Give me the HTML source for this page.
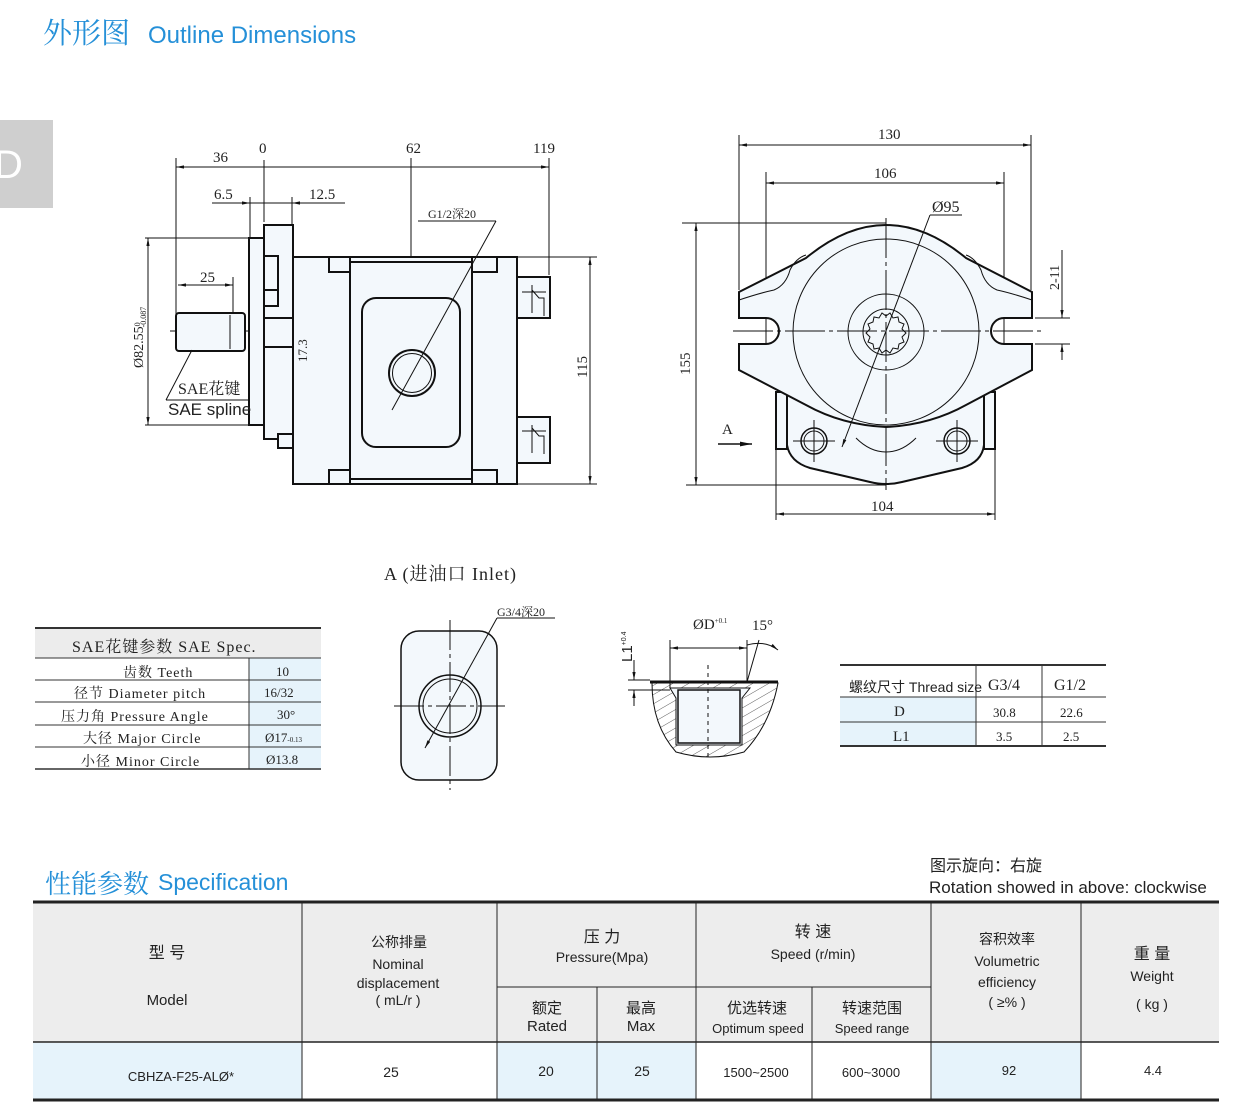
<!DOCTYPE html>
<html><head><meta charset="utf-8"><style>
html,body{margin:0;padding:0;background:#fff;}
svg{display:block;}
.t{font-family:"Liberation Serif","Noto Serif CJK SC",serif;fill:#222;}
.s{font-family:"Liberation Sans Narrow","Liberation Sans","Noto Sans CJK SC",sans-serif;fill:#222;}
</style></head><body>
<svg width="1246" height="1112" viewBox="0 0 1246 1112" xmlns="http://www.w3.org/2000/svg">
<defs>
<marker id="a" viewBox="0 0 10 10" refX="10" refY="5" markerWidth="8" markerHeight="8" orient="auto-start-reverse"><path d="M0,3 L10,5 L0,7 z" fill="#111"/></marker>
<pattern id="h" width="8" height="8" patternUnits="userSpaceOnUse" patternTransform="rotate(60)"><line x1="0" y1="0" x2="0" y2="8" stroke="#333" stroke-width="0.8"/></pattern>
</defs>
<!-- header -->
<text x="43" y="43" font-family="Liberation Serif,'Noto Serif CJK SC',serif" font-size="29" fill="#2590d8">外形图</text>
<text x="148" y="43" font-family="Liberation Sans,sans-serif" font-size="24" fill="#2590d8">Outline  Dimensions</text>
<rect x="0" y="120" width="53" height="88" fill="#cfcfcf"/>
<text x="-6" y="178" font-family="Liberation Sans,sans-serif" font-size="40" fill="#fff">D</text>

<!-- SIDE VIEW -->
<g stroke="#111" fill="none" stroke-width="1">
<line x1="176" y1="158" x2="176" y2="350"/>
<line x1="264" y1="160" x2="264" y2="222"/>
<line x1="411" y1="158" x2="411" y2="290"/>
<line x1="549" y1="158" x2="549" y2="275"/>
<line x1="176" y1="167" x2="264" y2="167" marker-start="url(#a)"/>
<line x1="264" y1="167" x2="549" y2="167" marker-end="url(#a)"/>
<line x1="411" y1="167" x2="411" y2="167"/>
<line x1="250" y1="197" x2="250" y2="238"/>
<line x1="292" y1="197" x2="292" y2="225"/>
<line x1="212" y1="203" x2="250" y2="203" marker-end="url(#a)"/>
<line x1="250" y1="203" x2="292" y2="203"/>
<line x1="345" y1="203" x2="292" y2="203" marker-end="url(#a)"/>
<line x1="145" y1="238" x2="250" y2="238"/>
<line x1="145" y1="425" x2="250" y2="425"/>
<line x1="148" y1="238" x2="148" y2="425" marker-start="url(#a)" marker-end="url(#a)"/>
<line x1="233" y1="277" x2="233" y2="318"/>
<line x1="178" y1="285" x2="233" y2="285" marker-start="url(#a)" marker-end="url(#a)"/>
<line x1="517" y1="257" x2="597" y2="257"/>
<line x1="517" y1="484" x2="597" y2="484"/>
<line x1="590" y1="257" x2="590" y2="484" marker-start="url(#a)" marker-end="url(#a)"/>
<line x1="305" y1="333" x2="305" y2="333"/>
<line x1="312" y1="333" x2="312" y2="373" marker-start="url(#a)" marker-end="url(#a)"/>
<line x1="307" y1="373" x2="445" y2="373" stroke-dasharray="30 4 4 4"/>
<line x1="170" y1="331" x2="330" y2="331" stroke-dasharray="30 4 4 4"/>
<line x1="411" y1="290" x2="411" y2="420" stroke-dasharray="30 4 4 4"/>
</g>
<g stroke="#111" stroke-width="2" fill="#f3f8fc">
<rect x="249" y="238" width="15" height="187"/>
<rect x="264" y="225" width="29" height="214"/>
<rect x="278" y="434" width="15" height="14"/>
<rect x="264" y="256" width="14" height="50" fill="none"/>
<path d="M264,290 h14" fill="none"/>
<rect x="293" y="257" width="224" height="227"/>
<rect x="329" y="257" width="21" height="15"/>
<rect x="472" y="257" width="25" height="15"/>
<rect x="329" y="470" width="21" height="14"/>
<rect x="472" y="470" width="25" height="14"/>
<line x1="350" y1="257" x2="350" y2="484"/>
<line x1="472" y1="257" x2="472" y2="484"/>
<line x1="350" y1="262" x2="472" y2="262"/>
<line x1="350" y1="479" x2="472" y2="479"/>
<rect x="362" y="298" width="98" height="149" rx="14"/>
<rect x="517" y="277" width="33" height="41"/>
<rect x="517" y="417" width="33" height="46"/>
<rect x="176" y="313" width="69" height="38" rx="3"/>
<line x1="264" y1="318" x2="293" y2="318"/><line x1="264" y1="347" x2="293" y2="347"/>
</g>
<g stroke="#111" fill="none" stroke-width="1">
<circle cx="412" cy="373" r="23" stroke-width="2"/>
<circle cx="412" cy="373" r="19.5"/>
<path d="M532,285 v28 M532,425 v28 M522,292 h24 M522,431 h24 M532,290 l7,8 h5 v18 M532,428 l7,8 h5 v18"/>
<line x1="230" y1="315" x2="230" y2="349"/>
<line x1="192" y1="350" x2="166" y2="400"/>
<line x1="166" y1="400" x2="250" y2="400"/>
<line x1="418" y1="221" x2="496" y2="221"/>
<line x1="496" y1="221" x2="392" y2="410"/>
</g>
<text class="t" x="213" y="162" font-size="15">36</text>
<text class="t" x="259" y="153" font-size="15">0</text>
<text class="t" x="406" y="153" font-size="15">62</text>
<text class="t" x="533" y="153" font-size="15">119</text>
<text class="t" x="214" y="199" font-size="15">6.5</text>
<text class="t" x="309" y="199" font-size="15">12.5</text>
<text class="t" x="200" y="282" font-size="15">25</text>
<text class="t" x="428" y="218" font-size="12">G1/2深20</text>
<text class="t" x="178" y="394" font-size="16">SAE花键</text>
<text class="s" x="168" y="415" font-size="17">SAE spline</text>
<text class="t" font-size="14" transform="translate(143,368) rotate(-90)">Ø82.55<tspan font-size="8" dy="-3">0</tspan><tspan font-size="8" dx="-5" dy="6">-0.087</tspan></text>
<text class="t" font-size="13" transform="translate(307,362) rotate(-90)">17.3</text>
<text class="t" font-size="15" transform="translate(587,378) rotate(-90)">115</text>

<!-- FRONT VIEW -->
<g stroke="#111" fill="none" stroke-width="1">
<line x1="739" y1="135" x2="739" y2="290"/>
<line x1="1031" y1="135" x2="1031" y2="290"/>
<line x1="739" y1="145" x2="1031" y2="145" marker-start="url(#a)" marker-end="url(#a)"/>
<line x1="766" y1="172" x2="766" y2="350"/>
<line x1="1004" y1="172" x2="1004" y2="350"/>
<line x1="766" y1="183" x2="1004" y2="183" marker-start="url(#a)" marker-end="url(#a)"/>
<line x1="682" y1="223" x2="886" y2="223"/>
<line x1="686" y1="485" x2="886" y2="485"/>
<line x1="696" y1="223" x2="696" y2="485" marker-start="url(#a)" marker-end="url(#a)"/>
<line x1="776" y1="450" x2="776" y2="520"/>
<line x1="995" y1="450" x2="995" y2="520"/>
<line x1="776" y1="514" x2="995" y2="514" marker-start="url(#a)" marker-end="url(#a)"/>
</g>
<g stroke="#111" stroke-width="2" fill="#f3f8fc">
<rect x="776" y="392" width="11" height="57"/>
<rect x="984" y="392" width="11" height="57"/>
<path d="M787,393 L787,445 Q790,462 810,468 L870,482 Q886,486 902,482 L962,468 Q982,462 984,445 L984,393 Z"/>
<path d="M739,292 L806,258 Q846,225 886,225 Q926,225 966,258 L1032,292 L1032,318 L1004,318 A13,13 0 0 0 1004,344 L1032,344 L1032,370 L966,405 Q930,425 886,427 Q842,425 806,405 L739,370 L739,344 L766,344 A13,13 0 0 0 766,318 L739,318 Z"/>
</g>
<g stroke="#111" fill="none" stroke-width="1">
<path d="M739,300 Q760,293 774,290 Q786,285 790,270 Q796,258 806,255"/>
<path d="M1032,300 Q1011,293 997,290 Q985,285 981,270 Q975,258 966,255"/>
<circle cx="886" cy="332" r="93"/>
<circle cx="886" cy="332" r="38"/>
<circle cx="886" cy="332" r="23"/>
<path d="M886,316 l4,-3 l3,5 l5,-1 l1,5 l5,2 l-2,5 l4,4 l-4,4 l2,5 l-5,2 l-1,5 l-5,-1 l-3,5 l-4,-3 l-4,3 l-3,-5 l-5,1 l-1,-5 l-5,-2 l2,-5 l-4,-4 l4,-4 l-2,-5 l5,-2 l1,-5 l5,1 l3,-5 z"/>
<circle cx="814" cy="441" r="13" stroke-width="1.5"/><circle cx="814" cy="441" r="10"/>
<circle cx="957" cy="441" r="13" stroke-width="1.5"/><circle cx="957" cy="441" r="10"/>
<path d="M856,438 Q870,452 886,452 Q902,452 916,438"/>
<line x1="733" y1="331" x2="1045" y2="331" stroke-dasharray="40 4 4 4"/>
<line x1="886" y1="218" x2="886" y2="490" stroke-dasharray="40 4 4 4"/>
<line x1="793" y1="441" x2="835" y2="441"/><line x1="814" y1="420" x2="814" y2="462"/>
<line x1="936" y1="441" x2="978" y2="441"/><line x1="957" y1="420" x2="957" y2="462"/>
<line x1="930" y1="215" x2="962" y2="215"/>
<line x1="930" y1="215" x2="842" y2="447" marker-end="url(#a)"/>
<line x1="1035" y1="318" x2="1070" y2="318"/>
<line x1="1035" y1="344" x2="1070" y2="344"/>
<line x1="1062" y1="250" x2="1062" y2="318" marker-end="url(#a)"/>
<line x1="1062" y1="360" x2="1062" y2="344" marker-end="url(#a)"/>
<line x1="718" y1="444" x2="752" y2="444" marker-end="url(#a)" stroke-width="1.5"/>
</g>
<text class="t" x="878" y="139" font-size="15">130</text>
<text class="t" x="874" y="178" font-size="15">106</text>
<text class="t" x="932" y="212" font-size="16">Ø95</text>
<text class="t" x="871" y="511" font-size="15">104</text>
<text class="t" x="722" y="434" font-size="15">A</text>
<text class="t" font-size="15" transform="translate(690,375) rotate(-90)">155</text>
<text class="t" font-size="14" transform="translate(1059,290) rotate(-90)">2-11</text>

<text class="t" x="384" y="580" font-size="18" letter-spacing="1">A (进油口 Inlet)</text>

<!-- SAE table -->
<rect x="35" y="629" width="286" height="29" fill="#ececec"/>
<rect x="249" y="658" width="72" height="112" fill="#e6f3fb"/>
<g stroke="#333" stroke-width="1">
<line x1="35" y1="628" x2="321" y2="628" stroke-width="2"/>
<line x1="35" y1="658" x2="321" y2="658"/>
<line x1="35" y1="680" x2="321" y2="680"/>
<line x1="35" y1="702" x2="321" y2="702"/>
<line x1="35" y1="725" x2="321" y2="725"/>
<line x1="35" y1="747" x2="321" y2="747"/>
<line x1="35" y1="769" x2="321" y2="769" stroke-width="1.5"/>
<line x1="249" y1="658" x2="249" y2="769"/>
</g>
<g class="t" font-size="14" letter-spacing="1">
<text x="72" y="652" font-size="16">SAE花键参数  SAE Spec.</text>
<text x="123" y="677">齿数 Teeth</text>
<text x="74" y="698">径节 Diameter pitch</text>
<text x="61" y="721">压力角 Pressure Angle</text>
<text x="83" y="743">大径 Major Circle</text>
<text x="81" y="766">小径 Minor Circle</text>
</g>
<g class="t" font-size="13">
<text x="276" y="676">10</text><text x="264" y="697">16/32</text><text x="277" y="719">30°</text>
<text x="265" y="742">Ø17<tspan font-size="7">-0.13</tspan></text><text x="266" y="764">Ø13.8</text>
</g>

<!-- inlet port -->
<g stroke="#111" fill="none" stroke-width="1">
<rect x="401" y="631" width="96" height="149" rx="18" fill="#f3f8fc" stroke-width="1.5"/>
<circle cx="450" cy="706" r="31" stroke-width="1.5"/>
<circle cx="450" cy="706" r="27"/>
<line x1="394" y1="706" x2="505" y2="706" stroke-dasharray="30 4 4 4"/>
<line x1="450" y1="620" x2="450" y2="790" stroke-dasharray="30 4 4 4"/>
<line x1="497" y1="618" x2="555" y2="618"/>
<line x1="497" y1="618" x2="425" y2="748" marker-end="url(#a)"/>
</g>
<text class="t" x="497" y="616" font-size="12">G3/4深20</text>

<!-- section -->
<g stroke="#111" fill="none" stroke-width="1">
<path d="M652,683 L778,683 Q770,725 744,752 Q710,762 676,752 Q652,725 652,683 Z" fill="url(#h)"/>
<path d="M670,688 L750,688 L742,698 L742,745 L676,745 L676,698 Z" fill="#f3f8fc"/>
<rect x="678" y="690" width="62" height="53" fill="#f3f8fc" stroke-width="1.5"/>
<line x1="650" y1="682" x2="778" y2="682" stroke-width="3"/>
<line x1="670" y1="640" x2="670" y2="688"/>
<line x1="747" y1="640" x2="747" y2="682"/>
<line x1="747" y1="682" x2="759" y2="640"/>
<line x1="670" y1="648" x2="747" y2="648" marker-start="url(#a)" marker-end="url(#a)"/>
<path d="M747,645 Q765,640 778,650" marker-end="url(#a)"/>
<line x1="708" y1="665" x2="708" y2="760" stroke-dasharray="4 4"/>
<line x1="628" y1="680" x2="650" y2="680"/><line x1="628" y1="690" x2="670" y2="690"/>
<line x1="634" y1="660" x2="634" y2="680" marker-end="url(#a)"/>
<line x1="634" y1="706" x2="634" y2="690" marker-end="url(#a)"/>
</g>
<text class="t" x="693" y="629" font-size="15">ØD<tspan font-size="7" dy="-6">+0.1</tspan></text>
<text class="t" x="752" y="630" font-size="15">15°</text>
<text class="s" font-size="15" transform="translate(632,662) rotate(-90)">L1<tspan font-size="7" dy="-6">+0.4</tspan></text>

<!-- thread table -->
<rect x="840" y="697" width="136" height="49" fill="#e6f3fb"/>
<g stroke="#333" stroke-width="1">
<line x1="840" y1="665" x2="1106" y2="665" stroke-width="2"/>
<line x1="840" y1="697" x2="1106" y2="697"/>
<line x1="840" y1="722" x2="1106" y2="722"/>
<line x1="840" y1="746" x2="1106" y2="746" stroke-width="2"/>
<line x1="976" y1="665" x2="976" y2="746"/>
<line x1="1042" y1="665" x2="1042" y2="746"/>
</g>
<text class="s" x="849" y="692" font-size="14">螺纹尺寸 Thread size</text>
<text class="t" x="988" y="690" font-size="16">G3/4</text>
<text class="t" x="1054" y="690" font-size="16">G1/2</text>
<text class="t" x="894" y="716" font-size="15">D</text>
<text class="t" x="993" y="717" font-size="13">30.8</text>
<text class="t" x="1060" y="717" font-size="13">22.6</text>
<text class="t" x="893" y="741" font-size="15">L1</text>
<text class="t" x="996" y="741" font-size="13">3.5</text>
<text class="t" x="1063" y="741" font-size="13">2.5</text>

<!-- spec -->
<text x="45" y="893" font-family="'Noto Serif CJK SC',serif" font-size="26" fill="#2590d8">性能参数</text>
<text x="158" y="890" font-family="Liberation Sans,sans-serif" font-size="23" fill="#2590d8">Specification</text>
<text class="s" x="930" y="871" font-size="16">图示旋向：右旋</text>
<text class="s" x="929" y="893" font-size="17">Rotation showed in above: clockwise</text>

<rect x="33" y="903" width="1186" height="139" fill="#ededed"/>
<rect x="33" y="1043" width="269" height="56" fill="#e6f3fb"/>
<rect x="497" y="1043" width="199" height="56" fill="#e6f3fb"/>
<rect x="931" y="1043" width="150" height="56" fill="#e6f3fb"/>
<g stroke="#222" stroke-width="1">
<line x1="33" y1="902" x2="1219" y2="902" stroke-width="3"/>
<line x1="33" y1="1042" x2="1219" y2="1042" stroke-width="1.5"/>
<line x1="33" y1="1100" x2="1219" y2="1100" stroke-width="3"/>
<line x1="497" y1="987" x2="931" y2="987"/>
<line x1="302" y1="902" x2="302" y2="1100"/>
<line x1="497" y1="902" x2="497" y2="1100"/>
<line x1="597" y1="987" x2="597" y2="1100"/>
<line x1="696" y1="902" x2="696" y2="1100"/>
<line x1="812" y1="987" x2="812" y2="1100"/>
<line x1="931" y1="902" x2="931" y2="1100"/>
<line x1="1081" y1="902" x2="1081" y2="1100"/>
</g>
<g class="s" font-size="14" text-anchor="middle">
<text x="167" y="958" font-size="16">型    号</text>
<text x="167" y="1005" font-size="15">Model</text>
<text x="399" y="947">公称排量</text>
<text x="398" y="969">Nominal</text>
<text x="398" y="988">displacement</text>
<text x="398" y="1005">( mL/r )</text>
<text x="602" y="942" font-size="16">压 力</text>
<text x="602" y="962">Pressure(Mpa)</text>
<text x="813" y="937" font-size="16">转   速</text>
<text x="813" y="959">Speed  (r/min)</text>
<text x="1007" y="944">容积效率</text>
<text x="1007" y="966">Volumetric</text>
<text x="1007" y="987">efficiency</text>
<text x="1007" y="1007">( ≥% )</text>
<text x="1152" y="959" font-size="16">重  量</text>
<text x="1152" y="981">Weight</text>
<text x="1152" y="1009">( kg )</text>
<text x="547" y="1013" font-size="15">额定</text>
<text x="547" y="1031" font-size="15">Rated</text>
<text x="641" y="1013" font-size="15">最高</text>
<text x="641" y="1031" font-size="15">Max</text>
<text x="757" y="1013" font-size="15">优选转速</text>
<text x="758" y="1033" font-size="13">Optimum speed</text>
<text x="872" y="1013" font-size="15">转速范围</text>
<text x="872" y="1033" font-size="13">Speed range</text>
<text x="181" y="1081" font-size="13">CBHZA-F25-ALØ*</text>
<text x="391" y="1077">25</text>
<text x="546" y="1076">20</text>
<text x="642" y="1076">25</text>
<text x="756" y="1077" font-size="13">1500~2500</text>
<text x="871" y="1077" font-size="13">600~3000</text>
<text x="1009" y="1075" font-size="13">92</text>
<text x="1153" y="1075" font-size="13">4.4</text>
</g>
</svg>
</body></html>
